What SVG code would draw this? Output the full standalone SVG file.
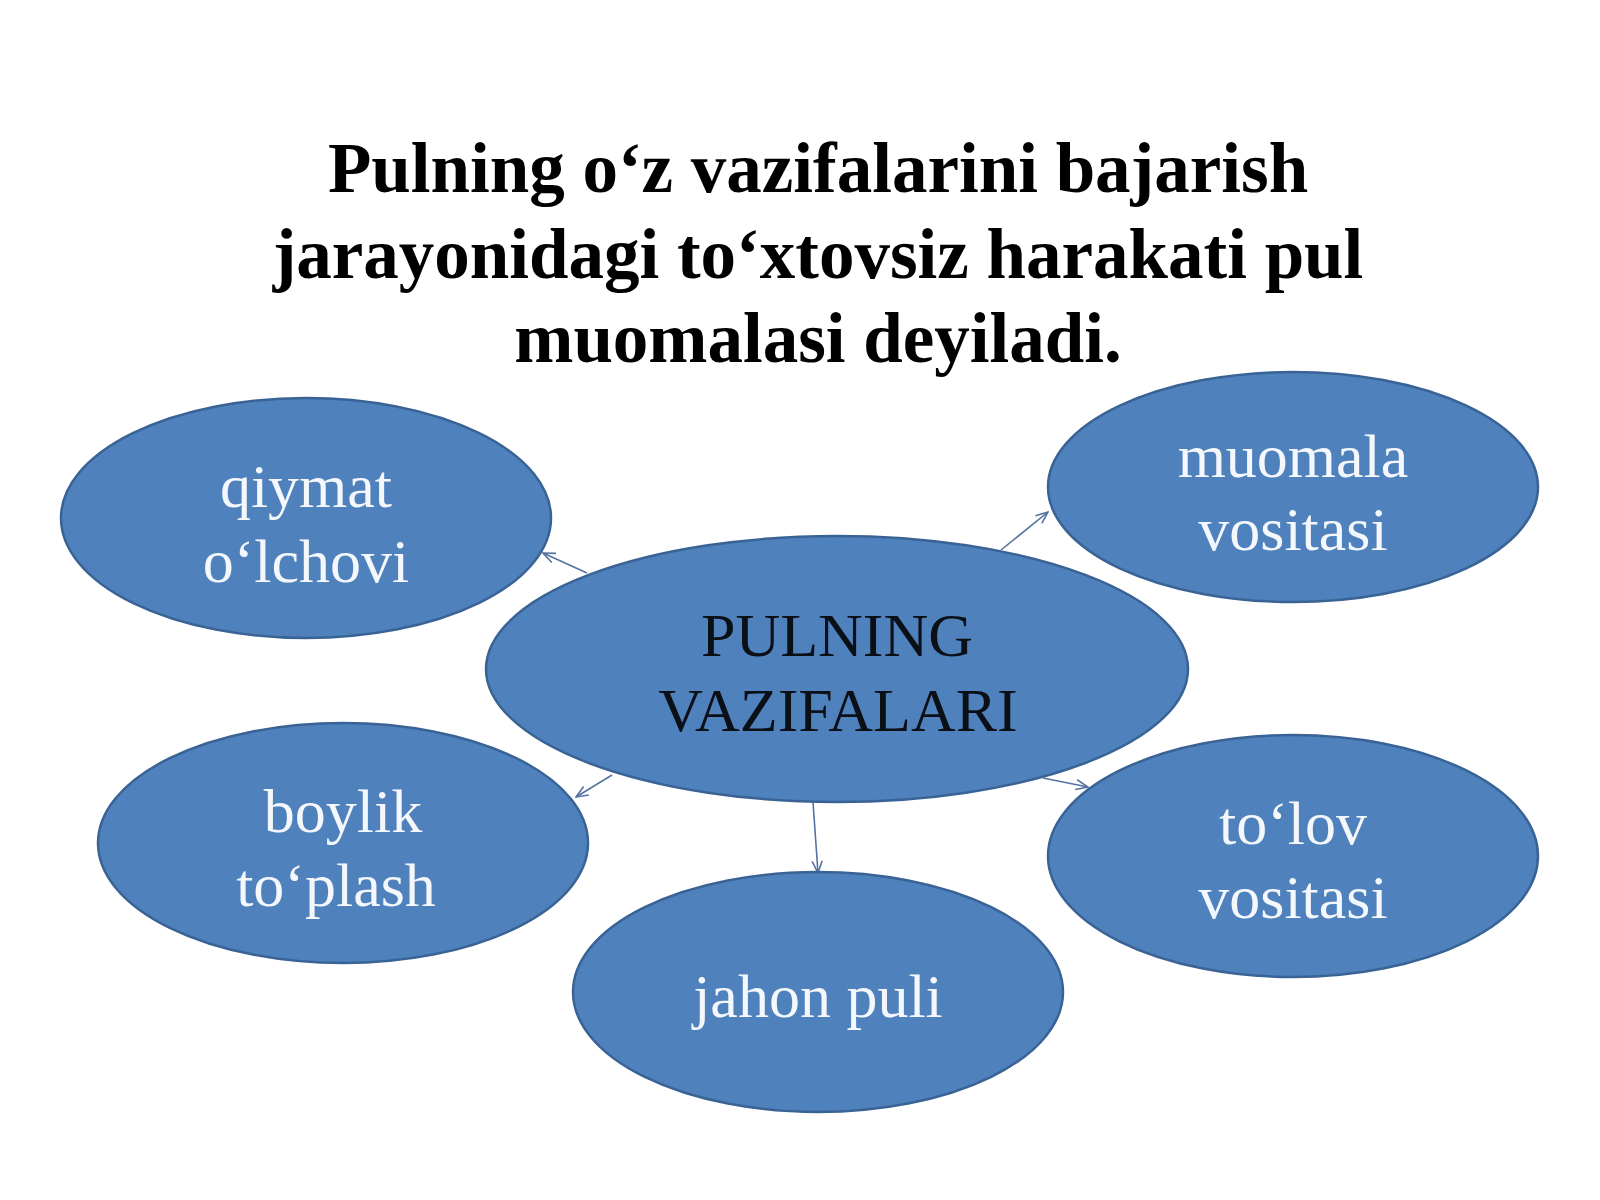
<svg xmlns="http://www.w3.org/2000/svg" width="1600" height="1200" viewBox="0 0 1600 1200">
<defs>
<style>
.node ellipse{fill:#4F81BD;stroke:#3A6395;stroke-width:2.5}
.lbl{font-family:"Liberation Serif","Times New Roman",serif;font-size:62px;fill:#F4F7FB;text-anchor:middle}
.dark{fill:#0B0F16}
.title{font-family:"Liberation Serif","Times New Roman",serif;font-size:71px;font-weight:bold;fill:#000;text-anchor:middle}
.conn line{stroke:#5672A0;stroke-width:1.6;fill:none}
</style>
<marker id="arr" viewBox="0 0 14 12" refX="13" refY="6" markerWidth="14" markerHeight="12" markerUnits="userSpaceOnUse" orient="auto">
<path d="M1,1 L13,6 L1,11" fill="none" stroke="#5672A0" stroke-width="1.6"/>
</marker>
</defs>
<rect width="1600" height="1200" fill="#FFFFFF"/>
<g id="title">
<text class="title" x="818" y="192">Pulning o‘z vazifalarini bajarish</text>
<text class="title" x="818" y="278">jarayonidagi to‘xtovsiz harakati pul</text>
<text class="title" x="818" y="362">muomalasi deyiladi.</text>
</g>
<g id="connectors" class="conn">
<line x1="587" y1="573" x2="543" y2="553" marker-end="url(#arr)"/>
<line x1="1001" y1="550" x2="1048" y2="512" marker-end="url(#arr)"/>
<line x1="612" y1="775" x2="576" y2="797" marker-end="url(#arr)"/>
<line x1="1043" y1="778" x2="1088" y2="787" marker-end="url(#arr)"/>
<line x1="813" y1="802" x2="818" y2="873" marker-end="url(#arr)"/>
</g>
<g id="node-qiymat" class="node">
<ellipse cx="306" cy="518" rx="245" ry="120"/>
<text class="lbl" x="306" y="507">qiymat</text>
<text class="lbl" x="306" y="582">o‘lchovi</text>
</g>
<g id="node-muomala" class="node">
<ellipse cx="1293" cy="487" rx="245" ry="115"/>
<text class="lbl" x="1293" y="477">muomala</text>
<text class="lbl" x="1293" y="550">vositasi</text>
</g>
<g id="node-boylik" class="node">
<ellipse cx="343" cy="843" rx="245" ry="120"/>
<text class="lbl" x="343" y="832">boylik</text>
<text class="lbl" x="336" y="906">to‘plash</text>
</g>
<g id="node-tolov" class="node">
<ellipse cx="1293" cy="856" rx="245" ry="121"/>
<text class="lbl" x="1293" y="844">to‘lov</text>
<text class="lbl" x="1293" y="918">vositasi</text>
</g>
<g id="node-jahon" class="node">
<ellipse cx="818" cy="992" rx="245" ry="120"/>
<text class="lbl" x="818" y="1017">jahon puli</text>
</g>
<g id="node-center" class="node">
<ellipse cx="837" cy="669" rx="351" ry="133"/>
<text class="lbl dark" x="837" y="656">PULNING</text>
<text class="lbl dark" x="838" y="731">VAZIFALARI</text>
</g>
</svg>
